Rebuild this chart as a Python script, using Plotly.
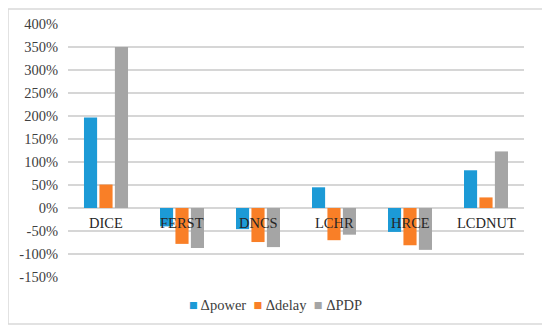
import plotly.graph_objects as go

categories = ["DICE", "FERST", "DNCS", "LCHR", "HRCE", "LCDNUT"]
power = [197, -40, -46, 45, -52, 82]
delay = [51, -78, -74, -70, -81, 23]
pdp = [350, -87, -85, -58, -91, 123]
series_names = ["Δpower", "Δdelay", "ΔPDP"]
colors = ["#1C9AD6", "#F97F27", "#A5A5A5"]
tick_vals = list(range(-150, 401, 50))
tick_text = [f"{v}%" for v in tick_vals]

font_family = "Liberation Serif"
OFF = 8  # page body margin

fig = go.Figure()
for name, vals, col in zip(series_names, [power, delay, pdp], colors):
    fig.add_trace(go.Bar(x=categories, y=vals, name=name, marker_color=col,
                         marker_line_width=0, showlegend=False))

W, H = 550 - OFF, 333 - OFF
L, R, T, B = 68 - OFF, 26, 24 - OFF, 56
pw, ph = W - L - R, H - T - B

def px_x(x):
    return (x - OFF - L) / pw

def px_y(y):
    return (H - B - (y - OFF)) / ph

legend_text = "  ".join(
    f"<span style='color:{c}'>■</span> {n}" for n, c in zip(series_names, colors)
)

annotations = [dict(text=c, x=c, y=0, xref="x", yref="y", yanchor="middle",
                    yshift=-15, showarrow=False,
                    font=dict(family=font_family, size=14.5, color="#262626"))
               for c in categories]
annotations.append(dict(text=legend_text, xref="paper", yref="paper",
                        x=px_x(275), y=px_y(305), xanchor="center", yanchor="middle",
                        showarrow=False,
                        font=dict(family=font_family, size=14.5, color="#404040")))

fig.update_layout(
    template="none",
    width=W, height=H,
    margin=dict(l=L, r=R, t=T, b=B, autoexpand=False),
    paper_bgcolor="white", plot_bgcolor="white",
    barmode="group", bargap=0.39, bargroupgap=0.15,
    font=dict(family=font_family, size=14, color="#404040"),
    xaxis=dict(showgrid=False, showline=False, zeroline=False,
               showticklabels=False, ticks=""),
    yaxis=dict(range=[-150, 400], tickvals=tick_vals, ticktext=tick_text,
               showgrid=True, gridcolor="#D6D6D6", gridwidth=1.5,
               zeroline=True, zerolinecolor="#D6D6D6", zerolinewidth=1.5,
               showline=False, ticks="",
               tickfont=dict(family=font_family, size=14.5, color="#404040"),
               ticklabelstandoff=9),
    shapes=[dict(type="rect", xref="paper", yref="paper",
                 x0=px_x(8), x1=px_x(543), y0=px_y(324), y1=px_y(9),
                 line=dict(color="#D9D9D9", width=1.5), layer="above")],
    annotations=annotations,
)

fig.write_html("out.html")
